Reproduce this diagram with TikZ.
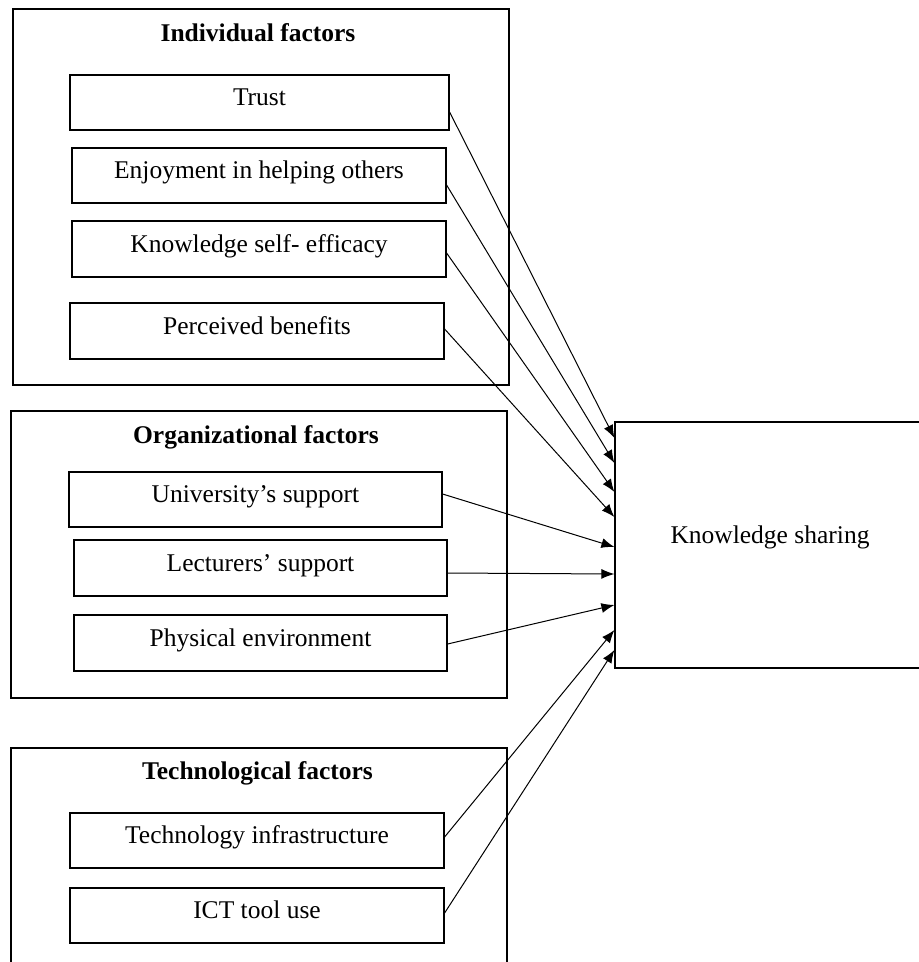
\documentclass[tikz,border=0pt]{standalone}
\usepackage{fontspec}
\setmainfont{Liberation Serif}
\usetikzlibrary{arrows.meta}
\newcommand{\boxfont}{\fontsize{25.5}{30}\selectfont}
\tikzset{
  groupbox/.style={draw, line width=1.2pt, inner sep=0pt},
  factorbox/.style={draw, line width=1.2pt, inner sep=0pt, minimum width=374pt, minimum height=55pt, text height=17pt, text depth=11pt},
  grouptitle/.style={anchor=base, font=\boxfont\bfseries},
  link/.style={-{Latex[length=13pt,width=10pt]}, line width=1pt}
}

\begin{document}
\begin{tikzpicture}[x=1pt, y=-1pt, font=\boxfont]
\useasboundingbox (0,0) rectangle (919,962);
% groups
\node[groupbox, minimum width=496pt, minimum height=376pt] (indgroup) at (261,197) {};
\node[groupbox, minimum width=496pt, minimum height=287pt] (orggroup) at (259,554.5) {};
\node[groupbox, minimum width=496pt, minimum height=240pt] (techgroup) at (259,868) {};
\node[grouptitle] (indtitle) at (258,41) {Individual factors};
\node[grouptitle] (orgtitle) at (256,443) {Organizational factors};
\node[grouptitle] (techtitle) at (257.5,779) {Technological factors};
% factors
\node[factorbox, minimum width=379pt] (trust) at (259.5,102.5) {Trust};
\node[factorbox] (enjoy) at (259,175.5) {Enjoyment in helping others};
\node[factorbox, minimum height=56pt] (selfeff) at (259,249) {Knowledge self- efficacy};
\node[factorbox, minimum height=56pt] (benefit) at (257,331) {Perceived benefits};
\node[factorbox, minimum width=373pt] (univ) at (255.5,499.5) {University’s support};
\node[factorbox, minimum width=373pt, minimum height=56pt] (lect) at (260.5,568) {Lecturers’ support};
\node[factorbox, minimum width=373pt, minimum height=56pt] (phys) at (260.5,643) {Physical environment};
\node[factorbox] (infra) at (257,840.5) {Technology infrastructure};
\node[factorbox] (ict) at (257,915.5) {ICT tool use};
% outcome
\node[groupbox, minimum width=310pt, minimum height=246pt, text height=17pt, text depth=21pt] (ks) at (770,545) {Knowledge sharing};

\path[link]
([yshift=-9.5pt]trust.east) edge ([yshift=107pt]ks.west)
([yshift=-9.5pt]enjoy.east) edge ([yshift=82pt]ks.west)
([yshift=-4pt]selfeff.east) edge ([yshift=53pt]ks.west)
([yshift=2pt]benefit.east) edge ([yshift=28pt]ks.west)
([yshift=5.5pt]univ.east) edge ([yshift=-2pt]ks.west)
([yshift=-5pt]lect.east) edge ([yshift=-29pt]ks.west)
([yshift=-1pt]phys.east) edge ([yshift=-60pt]ks.west)
([yshift=3.5pt]infra.east) edge ([yshift=-85pt]ks.west)
([yshift=2.5pt]ict.east) edge ([yshift=-105pt]ks.west)
;
\end{tikzpicture}
\end{document}
